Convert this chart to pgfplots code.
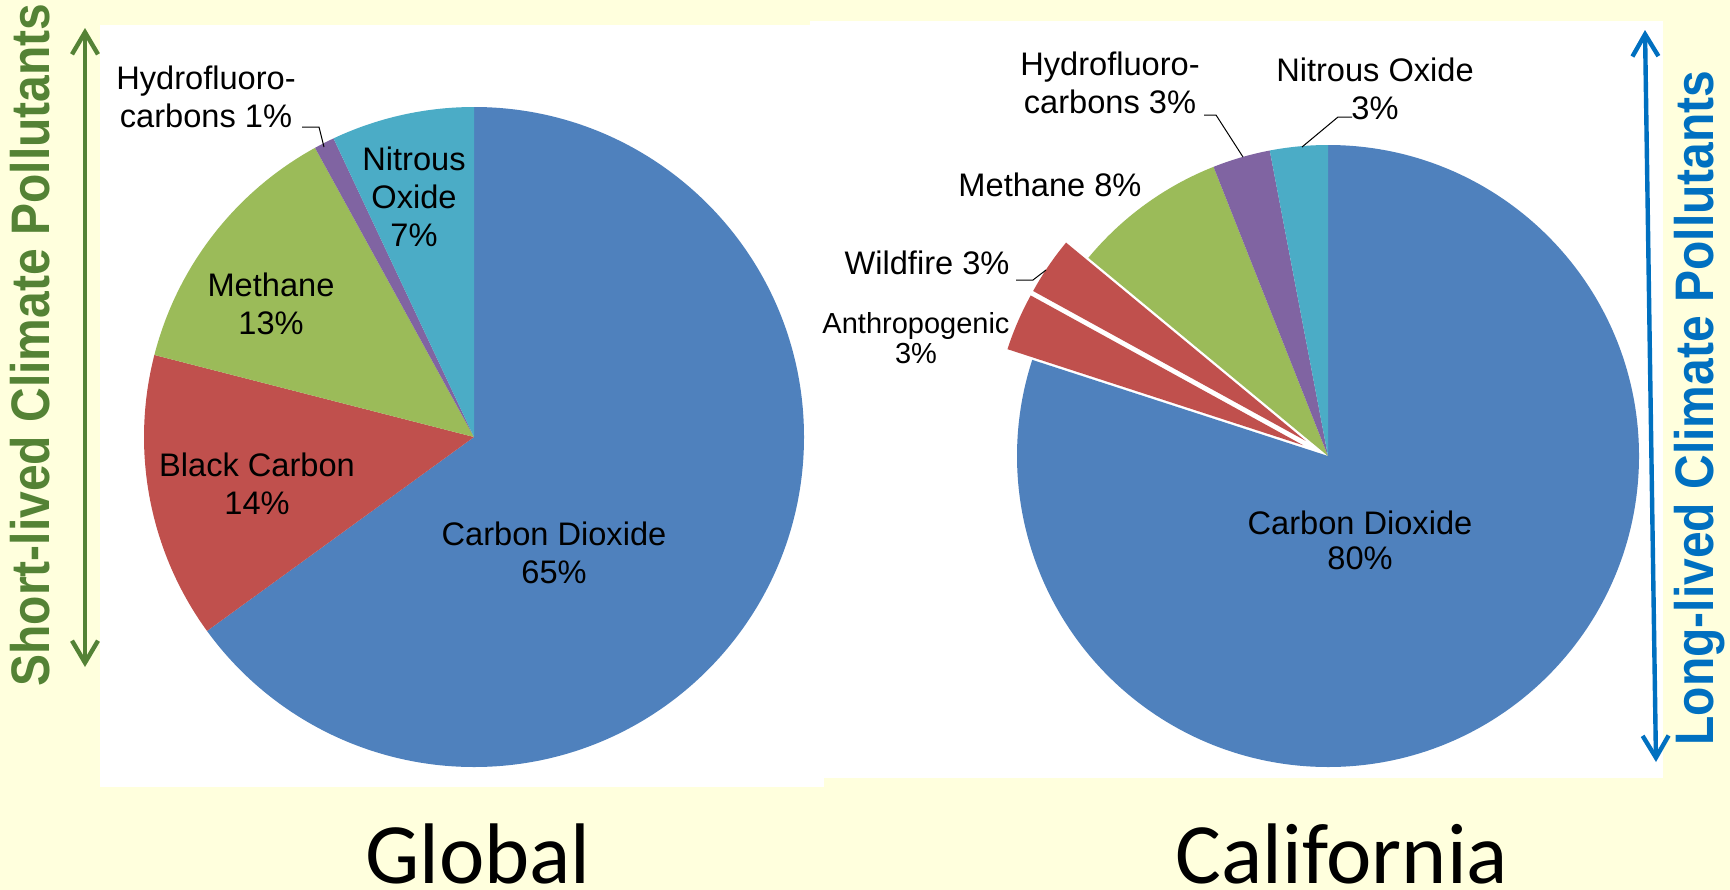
\documentclass[border=0pt]{standalone}
\usepackage{pgfplots}
\pgfplotsset{compat=1.18}
\usepackage{fontspec}
\setmainfont{Liberation Sans}
\newfontfamily\titlefont{Carlito}
\usetikzlibrary{arrows.meta}
\definecolor{bg}{RGB}{255,255,221}
\definecolor{cblue}{HTML}{4F81BD}
\definecolor{cred}{HTML}{C0504D}
\definecolor{cgreen}{HTML}{9BBB59}
\definecolor{cpurple}{HTML}{8064A2}
\definecolor{caqua}{HTML}{4BACC6}
\definecolor{sgreen}{RGB}{84,130,53}
\definecolor{lblue}{RGB}{0,112,192}
% slice: centre x, centre y, radius, start (%), value (%), colour  -- clockwise from 12 o'clock
\newcommand\slice[6]{%
  \fill[#6] (axis cs:#1,#2) -- ++({90-3.6*(#4)}:#3)
    arc[start angle={90-3.6*(#4)}, delta angle={-3.6*(#5)}, radius=#3] -- cycle;}
% exploded slice: extra arg #7 = offset
\newcommand\xslice[7]{%
  \fill[#6] (axis cs:#1,#2) ++({90-3.6*(#4+0.5*(#5))}:#7) -- ++({90-3.6*(#4)}:#3)
    arc[start angle={90-3.6*(#4)}, delta angle={-3.6*(#5)}, radius=#3] -- cycle;}
\newcommand\lbl{\fontsize{16.3bp}{19bp}\selectfont}
\begin{document}
\begin{tikzpicture}
\fill[bg] (0,0) rectangle (865bp,445bp);
\begin{axis}[hide axis, scale only axis, width=865bp, height=445bp,
  xmin=0, xmax=1730, ymin=0, ymax=890, at={(0,0)}, anchor=south west, clip=false]
% white panels
\fill[white] (axis cs:100,103) rectangle (axis cs:824,865);
\fill[white] (axis cs:810,112) rectangle (axis cs:1663,869);
% ---- Global pie (values in %) ----
\slice{474}{453}{165bp}{0}{65}{cblue}   % Carbon Dioxide
\slice{474}{453}{165bp}{65}{14}{cred}   % Black Carbon
\slice{474}{453}{165bp}{79}{13}{cgreen} % Methane
\slice{474}{453}{165bp}{92}{1}{cpurple} % Hydrofluorocarbons
\slice{474}{453}{165bp}{93}{7}{caqua}   % Nitrous Oxide
% ---- California pie (values in %) ----
\slice{1328}{434}{155.5bp}{0}{80}{cblue}   % Carbon Dioxide
\xslice{1328}{434}{155.5bp}{80}{3}{cred}{13.5bp} % Anthropogenic
\xslice{1328}{434}{155.5bp}{83}{3}{cred}{13.5bp} % Wildfire
\slice{1328}{434}{155.5bp}{86}{8}{cgreen}  % Methane
\slice{1328}{434}{155.5bp}{94}{3}{cpurple} % Hydrofluorocarbons
\slice{1328}{434}{155.5bp}{97}{3}{caqua}   % Nitrous Oxide
% ---- labels, Global ----
\node[align=center, font=\lbl] at (axis cs:206,793) {Hydrofluoro-\\carbons 1\%};
\draw[line width=0.5bp] (axis cs:302,763) -- (axis cs:319,763) -- (axis cs:324,743);
\node[align=center, font=\lbl] at (axis cs:414,693) {Nitrous\\Oxide\\7\%};
\node[align=center, font=\lbl] at (axis cs:271,586) {Methane\\13\%};
\node[align=center, font=\lbl] at (axis cs:257,406) {Black Carbon\\14\%};
\node[align=center, font=\lbl] at (axis cs:554,337) {Carbon Dioxide\\65\%};
% ---- labels, California ----
\node[align=center, font=\lbl] at (axis cs:1110,807) {Hydrofluoro-\\carbons 3\%};
\draw[line width=0.5bp] (axis cs:1204,775) -- (axis cs:1216,775) -- (axis cs:1243,733);
\node[align=center, font=\lbl] at (axis cs:1375,801) {Nitrous Oxide\\3\%};
\draw[line width=0.5bp] (axis cs:1352,773) -- (axis cs:1338,773) -- (axis cs:1302,743);
\node[align=center, font=\lbl] at (axis cs:1050,705) {Methane 8\%};
\node[align=center, font=\lbl] at (axis cs:927,627) {Wildfire 3\%};
\draw[line width=0.5bp] (axis cs:1016,610) -- (axis cs:1033,610) -- (axis cs:1046,620);
\node[align=center, font=\fontsize{14.5bp}{15bp}\selectfont] at (axis cs:916,552) {Anthropogenic\\3\%};
\node[align=center, font=\fontsize{16.3bp}{17.5bp}\selectfont] at (axis cs:1360,350) {Carbon Dioxide\\80\%};
% ---- titles ----
\node[anchor=base, font=\titlefont\fontsize{43bp}{50bp}\selectfont] at (axis cs:478,7) {Global};
\node[anchor=base, font=\titlefont\fontsize{43bp}{50bp}\selectfont] at (axis cs:1342,7) {California};
% ---- side annotations ----
\node[rotate=90, yscale=1.13, anchor=base, text=sgreen, font=\bfseries\fontsize{24bp}{28bp}\selectfont] at (axis cs:50,545) {Short-lived Climate Pollutants};
\draw[sgreen, line width=2.2bp, {Straight Barb[length=11bp,width=13bp]}-{Straight Barb[length=11bp,width=13bp]}] (axis cs:85,223) -- (axis cs:85,862);
\node[rotate=90, yscale=1.13, anchor=base, text=lblue, font=\bfseries\fontsize{24bp}{28bp}\selectfont] at (axis cs:1713,482) {Long-lived Climate Pollutants};
\draw[lblue, line width=2.2bp, {Straight Barb[length=11bp,width=13bp]}-{Straight Barb[length=11bp,width=13bp]}] (axis cs:1656,128) -- (axis cs:1645,860);
\end{axis}
\pgfresetboundingbox
\path[use as bounding box] (0,0) rectangle (865bp,445bp);
\end{tikzpicture}
\end{document}
